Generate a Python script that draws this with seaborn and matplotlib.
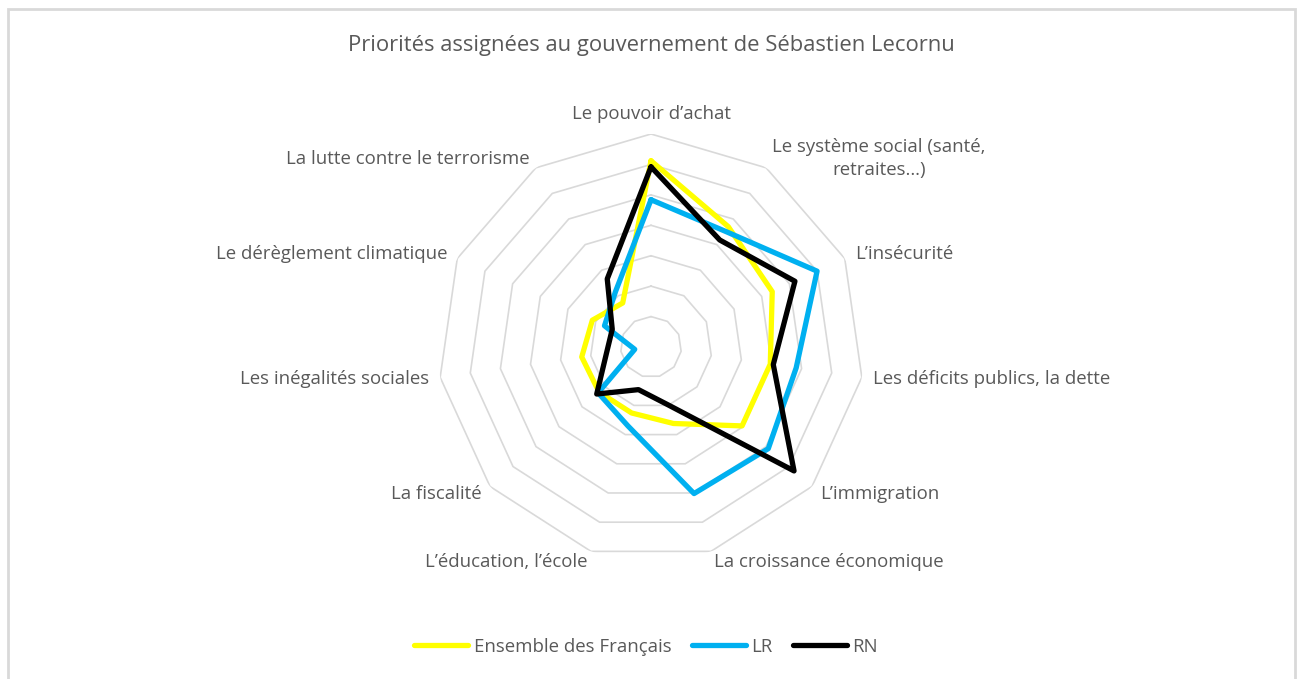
import numpy as np
import pandas as pd
import seaborn as sns
import matplotlib.pyplot as plt
from matplotlib.patches import Rectangle

# categories, clockwise from the top
categories = [
    "Le pouvoir d\u2019achat",
    "Le syst\u00e8me social (sant\u00e9,\nretraites\u2026)",
    "L\u2019ins\u00e9curit\u00e9",
    "Les d\u00e9ficits publics, la dette",
    "L\u2019immigration",
    "La croissance \u00e9conomique",
    "L\u2019\u00e9ducation, l\u2019\u00e9cole",
    "La fiscalit\u00e9",
    "Les in\u00e9galit\u00e9s sociales",
    "Le d\u00e9r\u00e8glement climatique",
    "La lutte contre le terrorisme",
]
ensemble = [30.6, 23.5, 21.9, 19.8, 19.8, 13.1, 11.3, 11.3, 11.5, 10.6, 8.6]
lr = [24.2, 22.6, 30.0, 24.1, 25.5, 25.1, 13.5, 11.5, 2.7, 8.4, 10.8]
rn = [29.6, 20.9, 26.0, 20.3, 31.1, 9.9, 7.3, 11.8, 7.4, 7.0, 13.3]
series_names = ["Ensemble des Fran\u00e7ais", "LR", "RN"]
colors = ["#FFFF00", "#00B0F0", "#000000"]
ring_values = [5, 10, 15, 20, 25, 30, 35]

text_color = "#595959"

sns.set_theme(style="white")
plt.rcParams["font.family"] = ["Open Sans", "DejaVu Sans"]

n = len(categories)
theta = np.linspace(0, 2 * np.pi, n, endpoint=False)
theta_closed = np.append(theta, theta[0])

# long table, each polygon closed by repeating the first point
rows = []
for name, vals in zip(series_names, [ensemble, lr, rn]):
    closed = list(vals) + [vals[0]]
    for t, v in zip(theta_closed, closed):
        rows.append({"serie": name, "theta": t, "valeur": v})
df = pd.DataFrame(rows)

W, H = 1299, 679
fig = plt.figure(figsize=(W / 100, H / 100), dpi=100)
cx, cy, rad = 651, 347, 213
ax = fig.add_axes([(cx - rad) / W, (H - cy - rad) / H, 2 * rad / W, 2 * rad / H],
                  projection="polar")
ax.set_theta_offset(np.pi / 2)
ax.set_theta_direction(-1)
rmax = ring_values[-1]
ax.set_ylim(0, rmax)

# polygon grid
for r in ring_values:
    ax.plot(theta_closed, [r] * len(theta_closed), color="#D9D9D9", lw=1.2, zorder=1)

sns.lineplot(data=df, x="theta", y="valeur", hue="serie", hue_order=series_names,
             palette=colors, sort=False, estimator=None, units="serie",
             lw=3.8, ax=ax, zorder=3)

ax.set_xticks([])
ax.set_yticks([])
ax.grid(False)
ax.spines["polar"].set_visible(False)
ax.set_xlabel("")
ax.set_ylabel("")

# category labels just outside the outer ring
r_lab = rmax * 224 / 213
for t, lab in zip(theta, categories):
    s = np.sin(t)
    c = np.cos(t)
    if s > 0.05:
        ha = "left"
    elif s < -0.05:
        ha = "right"
    else:
        ha = "center"
    va = "bottom" if c > 0.95 else "center"
    ax.text(t, r_lab, lab, ha=ha, va=va, multialignment="center",
            fontsize=13.4, color=text_color, linespacing=1.35)

fig.text(651 / W, 1 - 45 / H, "Priorit\u00e9s assign\u00e9es au gouvernement de S\u00e9bastien Lecornu",
         ha="center", va="center", fontsize=15.8, color=text_color)

sns.move_legend(ax, "center", bbox_to_anchor=(646 / W, 1 - 647 / H),
                bbox_transform=fig.transFigure, ncol=3, frameon=False, title=None,
                fontsize=13.4, handlelength=2.9, handletextpad=0.3, columnspacing=1.1)
for txt in ax.get_legend().get_texts():
    txt.set_color(text_color)

fig.patches.append(Rectangle((8 / W, -0.02), (1295 - 8) / W, (H - 9) / H + 0.02,
                             transform=fig.transFigure, fill=False,
                             edgecolor="#D9D9D9", lw=2))

fig.savefig("out.png", dpi=100)
